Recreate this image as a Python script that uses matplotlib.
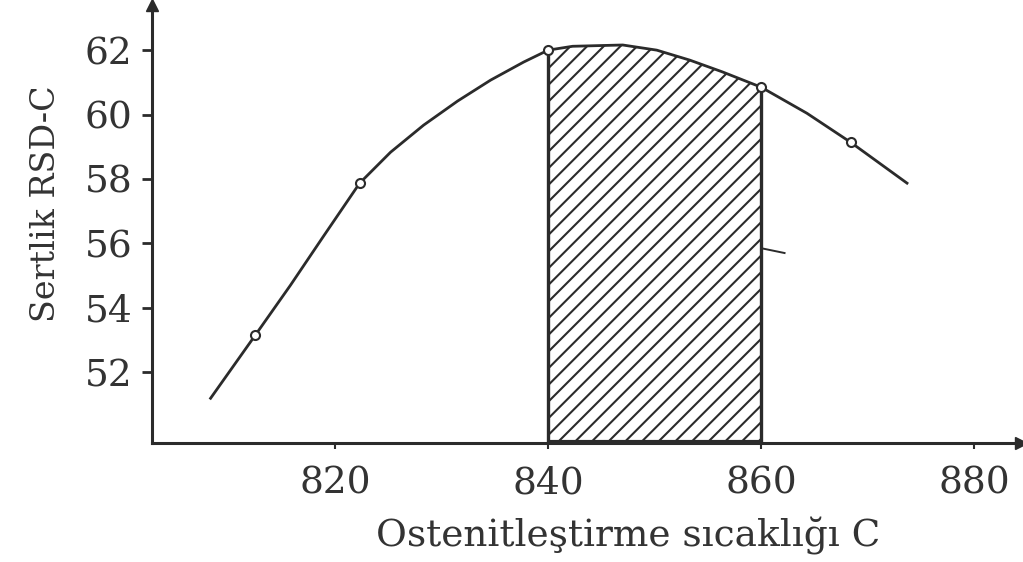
import matplotlib
matplotlib.use("Agg")
import matplotlib.pyplot as plt

# Curve (temperature C, hardness)
curve_x = [808.3, 812.5, 815.8, 818.9, 822.3, 825.2, 828.3, 831.5, 834.6, 837.7,
           840.0, 842.3, 847.0, 850.2, 853.3, 856.4, 860.0, 864.3, 868.4, 873.7]
curve_y = [51.19, 53.15, 54.70, 56.22, 57.87, 58.83, 59.67, 60.42, 61.07, 61.63,
           62.00, 62.12, 62.16, 62.00, 61.69, 61.32, 60.85, 60.04, 59.14, 57.87]

# Measured points (open circles)
point_x = [812.5, 822.3, 840.0, 860.0, 868.4]
point_y = [53.15, 57.87, 62.00, 60.85, 59.14]

# Optimal range (hatched)
range_lo, range_hi = 840, 860

# Small stray stroke next to the 860 line
stroke_x = [860.0, 862.2]
stroke_y = [55.85, 55.70]

xticks = [820, 840, 860, 880]
yticks = [52, 54, 56, 58, 60, 62]
xlabel = "Ostenitleştirme sıcaklığı C"
ylabel = "Sertlik RSD-C"

ink = "#2b2b2b"
txt = "#333333"
plt.rcParams['hatch.linewidth'] = 1.5
plt.rcParams['font.family'] = ['DejaVu Serif']

fig = plt.figure(figsize=(10.23, 5.62), dpi=100)
ax = fig.add_axes([0.1486, 0.2117, 0.998 - 0.1486, 0.991 - 0.2117])
ax.set_xlim(802.8, 884.4)
y0 = 49.8
ax.set_ylim(y0, 63.4)

# hatched region
hx = [x for x in curve_x if range_lo <= x <= range_hi]
hy = [y for x, y in zip(curve_x, curve_y) if range_lo <= x <= range_hi]
ax.fill_between(hx, y0, hy, facecolor="none", edgecolor=ink, hatch="//", linewidth=0)
ax.vlines([range_lo], y0, hy[0], color=ink, lw=2.4)
ax.vlines([range_hi], y0, hy[-1], color=ink, lw=2.4)
ax.plot([range_lo, range_hi], [y0 + 0.03, y0 + 0.03], color=ink, lw=3.0, solid_capstyle='butt')

# curve and points
ax.plot(curve_x, curve_y, color=ink, lw=2.0, solid_joinstyle='round')
ax.plot(point_x, point_y, linestyle="none", marker="o", ms=6.5, mfc="white", mec=ink, mew=1.5)
ax.plot(stroke_x, stroke_y, color=ink, lw=1.4)

# axes styling
for s in ("top", "right"):
    ax.spines[s].set_visible(False)
for s in ("left", "bottom"):
    ax.spines[s].set_color(ink)
    ax.spines[s].set_linewidth(2.2)
ax.plot(1, y0, ">", color=ink, ms=8, transform=ax.get_yaxis_transform(), clip_on=False)
ax.plot(802.8, 1, "^", color=ink, ms=8, transform=ax.get_xaxis_transform(), clip_on=False)

ax.set_xticks(xticks)
ax.set_yticks(yticks)
ax.set_xticklabels([str(v) for v in xticks])
ax.set_yticklabels([str(v) for v in yticks])
ax.tick_params(axis="y", direction="out", length=7, width=2, color=ink,
               labelsize=27, labelcolor=txt, pad=7)
ax.tick_params(axis="x", direction="out", length=4, width=1.5, color=ink,
               labelsize=27, labelcolor=txt, pad=12)

ax.set_xlabel(xlabel, fontsize=27, color=txt)
ax.xaxis.set_label_coords(0.548, -0.168)
ax.set_ylabel(ylabel, fontsize=24, color=txt)
ax.yaxis.set_label_coords(-0.104, 0.546)

fig.savefig("out.png", dpi=100)
